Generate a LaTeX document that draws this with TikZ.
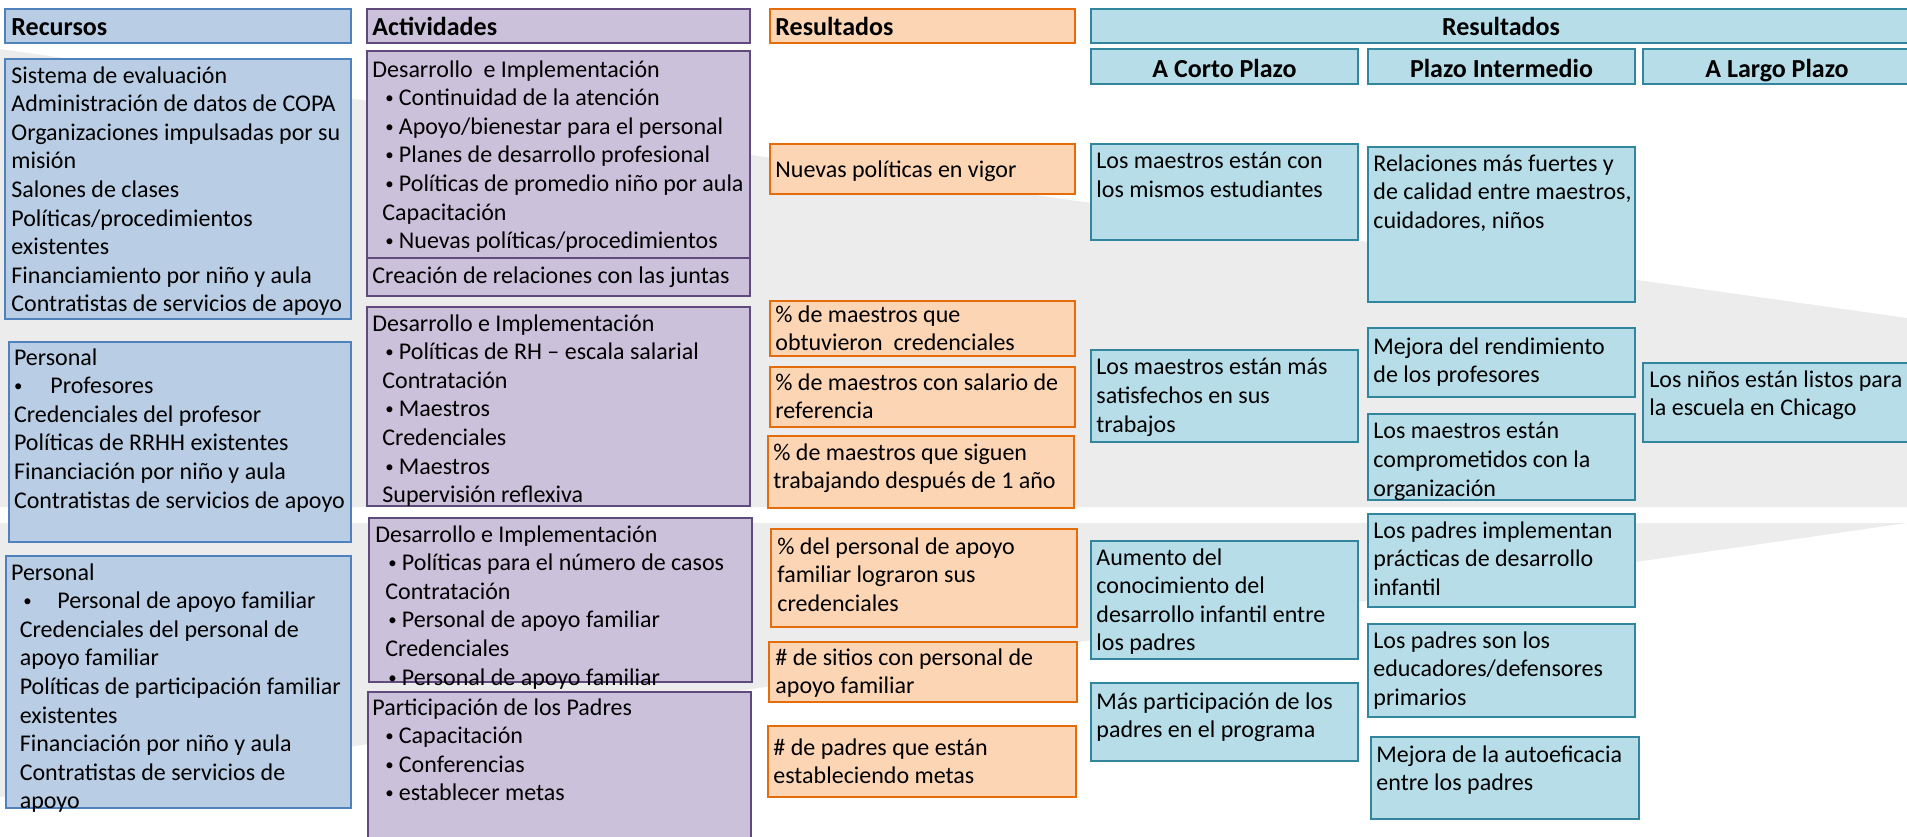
\documentclass[tikz,border=0pt]{standalone}
\usepackage{fontspec}
\setmainfont{Carlito}

\definecolor{recfill}{HTML}{B9CDE5}
\definecolor{recdraw}{HTML}{4F81BD}
\definecolor{actfill}{HTML}{CCC1DA}
\definecolor{actdraw}{HTML}{604A7B}
\definecolor{resfill}{HTML}{FCD5B5}
\definecolor{resdraw}{HTML}{E46C0A}
\definecolor{outfill}{HTML}{B7DEE8}
\definecolor{outdraw}{HTML}{31859C}

\newcommand{\bola}{\raisebox{1pt}{\scalebox{0.7}{\textbullet}}}
\newcommand{\punto}{\hspace*{6.5pt}\makebox[6.75pt][l]{\bola}}
\newcommand{\sangria}{\hspace*{5pt}}
\newcommand{\ind}{\hspace*{4.35pt}}

\begin{document}
\begin{tikzpicture}[x=0.5pt, y=-0.5pt,
  recbox/.style={draw=recdraw, fill=recfill, line width=1pt},
  actbox/.style={draw=actdraw, fill=actfill, line width=1pt},
  resbox/.style={draw=resdraw, fill=resfill, line width=1.2pt},
  outbox/.style={draw=outdraw, fill=outfill, line width=1pt},
  txt/.style={anchor=north west, inner sep=0pt, align=left, font=\fontsize{12}{14.3}\selectfont},
  head/.style={anchor=base west, inner sep=0pt, font=\fontsize{13}{15}\selectfont\bfseries}]

\useasboundingbox (0,0) rectangle (1907,836);

% grey arrows behind
\fill[gray!15] (0,49) -- (1907,318) -- (1907,507) -- (0,507) -- cycle;
\fill[gray!15] (0,523) -- (1907,523) -- (0,797) -- cycle;

% column heads
\draw[recbox] (5,9) rectangle (351,43);
\node[head] (recursos) at (11,35) {Recursos};
\draw[actbox] (367,9) rectangle (750,43);
\node[head] (actividades) at (372,35) {Actividades};
\draw[resbox] (770,9) rectangle (1075,43);
\node[head] (productos) at (775,35) {Resultados};
\draw[outbox] (1091,9) rectangle (1911,43);
\node[head, anchor=base] (resultados) at (1501,35) {Resultados};
\draw[outbox] (1091,49) rectangle (1358,84);
\node[head, anchor=base] (corto) at (1224.5,77) {A Corto Plazo};
\draw[outbox] (1368,49) rectangle (1635,84);
\node[head, anchor=base] (inter) at (1501.5,77) {Plazo Intermedio};
\draw[outbox] (1643,49) rectangle (1911,84);
\node[head, anchor=base] (largo) at (1777,77) {A Largo Plazo};

% recursos
\draw[recbox] (5,59) rectangle (351,319);
\node[txt] (rec1) at (11,66) {Sistema de evaluación\\Administración de datos de COPA\\Organizaciones impulsadas por su\\misión\\Salones de clases\\Políticas/procedimientos\\existentes\\Financiamiento por niño y aula\\Contratistas de servicios de apoyo};
\draw[recbox] (9,342) rectangle (351,542);
\node[txt] (rec2) at (13.6,348) {Personal\\\makebox[18.2pt][l]{\bola}Profesores\\Credenciales del profesor\\Políticas de RRHH existentes\\Financiación por niño y aula\\Contratistas de servicios de apoyo};
\draw[recbox] (6,556) rectangle (351,808);
\node[txt] (rec3) at (10.7,563) {Personal\\\hspace*{6.15pt}\makebox[17pt][l]{\bola}Personal de apoyo familiar\\\ind Credenciales del personal de\\\ind apoyo familiar\\\ind Políticas de participación familiar\\\ind existentes\\\ind Financiación por niño y aula\\\ind Contratistas de servicios de\\\ind apoyo};

% actividades
\draw[actbox] (367,51) rectangle (750,258);
\node[txt] (act1) at (372,60) {Desarrollo~ e Implementación\\\punto Continuidad de la atención\\\punto Apoyo/bienestar para el personal\\\punto Planes de desarrollo profesional\\\punto Políticas de promedio niño por aula\\\sangria Capacitación\\\punto Nuevas políticas/procedimientos};
\draw[actbox] (367,258) rectangle (750,296);
\node[txt] (act2) at (372,266) {Creación de relaciones con las juntas};
\draw[actbox] (367,307) rectangle (750,506);
\node[txt] (act3) at (372,314) {Desarrollo e Implementación\\\punto Políticas de RH – escala salarial\\\sangria Contratación\\\punto Maestros\\\sangria Credenciales\\\punto Maestros\\\sangria Supervisión reflexiva};
\draw[actbox] (369,518) rectangle (752,682);
\node[txt] (act4) at (375,525) {Desarrollo e Implementación\\\punto Políticas para el número de casos\\\sangria Contratación\\\punto Personal de apoyo familiar\\\sangria Credenciales\\\punto Personal de apoyo familiar};
\draw[actbox] (368,692) rectangle (751,850);
\node[txt] (act5) at (372,698) {Participación de los Padres\\\punto Capacitación\\\punto Conferencias\\\punto establecer metas};

% resultados (productos)
\draw[resbox] (770,144) rectangle (1075,194);
\node[txt] (res1) at (775,160) {Nuevas políticas en vigor};
\draw[resbox] (770,301) rectangle (1075,356);
\node[txt] (res2) at (775,305) {\% de maestros que\\obtuvieron~ credenciales};
\draw[resbox] (770,367) rectangle (1075,427);
\node[txt] (res3) at (775,373) {\% de maestros con salario de\\referencia};
\draw[resbox] (768,436) rectangle (1074,508);
\node[txt] (res4) at (773,443) {\% de maestros que siguen\\trabajando después de 1 año};
\draw[resbox] (771,529) rectangle (1077,627);
\node[txt] (res5) at (777,537) {\% del personal de apoyo\\familiar lograron sus\\credenciales};
\draw[resbox] (769,642) rectangle (1077,702);
\node[txt] (res6) at (775,648) {\# de sitios con personal de\\apoyo familiar};
\draw[resbox] (768,726) rectangle (1076,797);
\node[txt] (res7) at (773,738) {\# de padres que están\\estableciendo metas};

% a corto plazo
\draw[outbox] (1091,144) rectangle (1358,240);
\node[txt] (corto1) at (1096,152) {Los maestros están con\\los mismos estudiantes};
\draw[outbox] (1091,350) rectangle (1358,442);
\node[txt] (corto2) at (1096,358) {Los maestros están más\\satisfechos en sus\\trabajos};
\draw[outbox] (1091,541) rectangle (1358,659);
\node[txt] (corto3) at (1096,548) {Aumento del\\conocimiento del\\desarrollo infantil entre\\los padres};
\draw[outbox] (1091,683) rectangle (1358,761);
\node[txt] (corto4) at (1096,692) {Más participación de los\\padres en el programa};

% plazo intermedio
\draw[outbox] (1368,147) rectangle (1635,302);
\node[txt] (inter1) at (1373,154) {Relaciones más fuertes y\\de calidad entre maestros,\\cuidadores, niños};
\draw[outbox] (1368,328) rectangle (1635,397);
\node[txt] (inter2) at (1373,337) {Mejora del rendimiento\\de los profesores};
\draw[outbox] (1368,414) rectangle (1635,500);
\node[txt] (inter3) at (1373,422) {Los maestros están\\comprometidos con la\\organización};
\draw[outbox] (1368,514) rectangle (1635,607);
\node[txt] (inter4) at (1373,521) {Los padres implementan\\prácticas de desarrollo\\infantil};
\draw[outbox] (1368,624) rectangle (1635,717);
\node[txt] (inter5) at (1373,631) {Los padres son los\\educadores/defensores\\primarios};
\draw[outbox] (1371,737) rectangle (1639,819);
\node[txt] (inter6) at (1376,745) {Mejora de la autoeficacia\\entre los padres};

% a largo plazo
\draw[outbox] (1643,363) rectangle (1911,442);
\node[txt] (largo1) at (1649,370) {Los niños están listos para\\la escuela en Chicago};

\end{tikzpicture}
\end{document}
